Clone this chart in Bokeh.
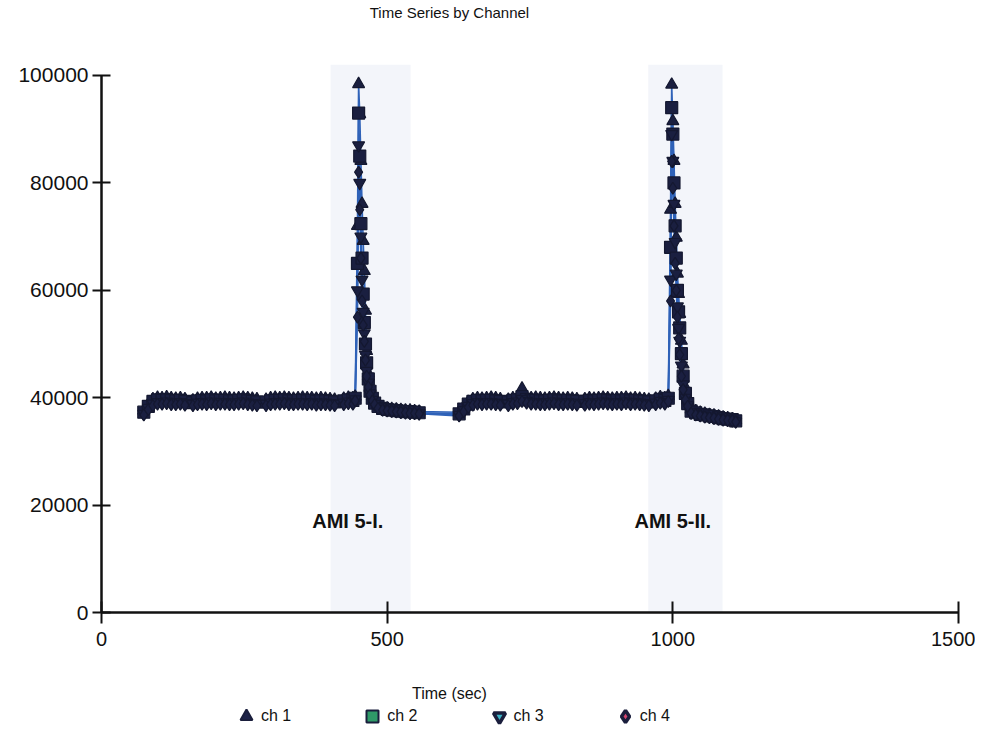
from bokeh.plotting import figure
from bokeh.models import (Range1d, FixedTicker, BasicTickFormatter, Label, BoxAnnotation,
                          Legend, LegendItem, LinearAxis)
from bokeh.embed import file_html
from bokeh.resources import INLINE

# ---------------- data ----------------
time_s = [
    74, 82, 90, 98, 106, 114, 122, 130, 138, 146,
    160, 168, 176, 184, 192, 200, 208, 216, 224, 232, 240, 248, 256, 264, 272,
    288, 296, 304, 312, 320, 328, 336, 344, 352, 360, 368, 376, 384, 392, 400, 408,
    424, 432, 440,
    444, 448, 450, 452, 454, 456, 458, 460, 462, 464, 467, 470, 474, 478,
    484, 492, 500, 508, 516, 524, 532, 540, 548, 556,
    626, 634, 642, 650, 658, 666, 674, 682, 690, 698,
    712, 720, 728, 736, 744, 752, 760, 768, 776, 784, 792, 800, 808, 816, 824, 832,
    846, 854, 862, 870, 878, 886, 894, 902, 910, 918, 926, 934, 942, 950, 958,
    970, 978, 986,
    992, 996, 998, 1000, 1002, 1004, 1006, 1008, 1010, 1012, 1015, 1018, 1022, 1026,
    1032, 1040, 1048, 1056, 1064, 1072, 1080, 1088, 1096, 1104, 1110,
]

ch1 = [
    37600, 38800, 39700, 40000, 39900, 40100, 39900, 39800, 39900, 39700,
    39500, 39800, 39900, 39900, 40000, 39800, 39900, 40000, 39900, 39800, 39900, 40000, 39900, 39800, 39700,
    39600, 39900, 40000, 39900, 40000, 39900, 39800, 39900, 40000, 39900, 39900, 39800, 39900, 39800, 39700, 39600,
    39800, 40000, 39900,
    40200, 72000, 98400, 92800, 84100, 76100, 69200, 63600, 56200, 48700, 44500, 41800, 40200, 39200,
    38600, 38200, 38000, 37900, 37800, 37700, 37600, 37600, 37500, 37400,
    37300, 38300, 39200, 39700, 39900, 39800, 39900, 40000, 39900, 39700,
    39600, 39900, 40000, 41700, 40100, 39900, 40000, 39900, 39800, 39900, 40000, 39900, 39800, 39900, 39800, 39700,
    39700, 39900, 39800, 39900, 40000, 39900, 39800, 39900, 39900, 40000, 39800, 39900, 39800, 39700, 39600,
    39800, 40100, 39900,
    40300, 75000, 98300, 91500, 84100, 76100, 69800, 63100, 59300, 55600, 50600, 46200, 41900, 39500,
    37800, 37500, 37200, 37000, 36800, 36700, 36500, 36300, 36200, 36000, 35800,
]

ch2 = [
    37300, 38400, 39300, 39600, 39500, 39600, 39500, 39400, 39500, 39300,
    39100, 39400, 39500, 39400, 39600, 39400, 39500, 39500, 39400, 39400, 39500, 39600, 39400, 39300, 39200,
    39200, 39400, 39500, 39500, 39600, 39400, 39400, 39500, 39500, 39400, 39500, 39300, 39400, 39400, 39300, 39200,
    39400, 39600, 39500,
    39900, 65000, 93000, 85000, 72400, 66000, 59300, 54000, 50000, 46500, 43500, 41200, 39900, 39000,
    38400, 38000, 37800, 37700, 37600, 37500, 37400, 37400, 37300, 37200,
    37000, 37900, 38800, 39300, 39500, 39400, 39500, 39500, 39400, 39300,
    39200, 39500, 39600, 40200, 39700, 39500, 39500, 39400, 39400, 39500, 39600, 39400, 39400, 39500, 39400, 39300,
    39300, 39500, 39400, 39500, 39600, 39500, 39400, 39500, 39400, 39600, 39400, 39500, 39400, 39300, 39200,
    39400, 39700, 39500,
    39900, 68000, 94000, 89100, 80000, 72000, 66000, 60000, 56000, 53000, 48200, 44000, 40800, 38900,
    37500, 37200, 36900, 36800, 36600, 36500, 36300, 36100, 36000, 35900, 35700,
]

ch3 = [
    37000, 38100, 38900, 39200, 39200, 39300, 39100, 39100, 39200, 39000,
    38800, 39100, 39200, 39100, 39300, 39100, 39200, 39200, 39100, 39100, 39200, 39300, 39100, 39000, 38900,
    38900, 39100, 39200, 39200, 39300, 39100, 39100, 39200, 39200, 39100, 39200, 39000, 39100, 39100, 39000, 38900,
    39100, 39300, 39200,
    39700, 60000, 87000, 80000, 70000, 62000, 56000, 52000, 48000, 45000, 42800, 40800, 39600, 38800,
    38200, 37900, 37700, 37600, 37500, 37400, 37300, 37200, 37200, 37100,
    36800, 37700, 38500, 39000, 39200, 39100, 39200, 39200, 39100, 39000,
    38900, 39200, 39300, 39800, 39400, 39200, 39200, 39100, 39100, 39200, 39300, 39100, 39100, 39200, 39100, 39000,
    39000, 39200, 39100, 39200, 39300, 39200, 39100, 39200, 39100, 39300, 39100, 39200, 39100, 39000, 38900,
    39100, 39400, 39200,
    39600, 62000, 89100, 84100, 76100, 69000, 63100, 57000, 53000, 50600, 46000, 42500, 40000, 38600,
    37300, 37000, 36800, 36600, 36500, 36300, 36200, 36000, 35900, 35800, 35600,
]

ch4 = [
    36800, 37800, 38500, 38800, 38800, 38900, 38700, 38700, 38800, 38600,
    38500, 38700, 38800, 38700, 38900, 38700, 38800, 38800, 38700, 38700, 38800, 38900, 38700, 38600, 38500,
    38500, 38700, 38800, 38800, 38900, 38700, 38700, 38800, 38800, 38700, 38800, 38600, 38700, 38700, 38600, 38500,
    38700, 38900, 38800,
    39400, 55000, 82000, 75000, 66000, 58000, 53500, 50500, 47000, 44000, 42000, 40500, 39400, 38700,
    38000, 37700, 37600, 37500, 37400, 37300, 37200, 37100, 37100, 37000,
    36600, 37400, 38200, 38600, 38800, 38700, 38800, 38800, 38700, 38600,
    38500, 38800, 38900, 39300, 39000, 38800, 38800, 38700, 38700, 38800, 38900, 38700, 38700, 38800, 38700, 38600,
    38600, 38800, 38700, 38800, 38900, 38800, 38700, 38800, 38700, 38900, 38700, 38800, 38700, 38600, 38500,
    38700, 39000, 38800,
    39300, 58000, 84000, 79000, 72000, 65000, 60000, 55000, 51000, 48000, 44000, 41500, 39600, 38400,
    37100, 36800, 36600, 36400, 36300, 36200, 36000, 35900, 35800, 35700, 35500,
]

channel_names = ["ch 1", "ch 2", "ch 3", "ch 4"]
channel_markers = ["triangle", "square", "inverted_triangle", "diamond"]
legend_fills = ["#1d2248", "#2f9a68", "#3cb4c8", "#d2456e"]
legend_line_widths = [2, 2, 3.5, 3.5]

x_ticks = [0, 500, 1000, 1500]
y_ticks = [0, 20000, 40000, 60000, 80000, 100000]

band_ranges = [(401, 541), (957, 1087)]
band_labels = ["AMI 5-I.", "AMI 5-II."]
band_label_x = [431, 1000]

title_text = "Time Series by Channel"
x_label = "Time (sec)"

# ---------------- figure ----------------
FONT = "Liberation Sans"
W, H = 975, 727

p = figure(width=W, height=H, output_backend="svg", toolbar_location=None,
           title_location=None, x_axis_location=None, y_axis_location=None,
           x_range=Range1d(-176.8, 1529.75), y_range=Range1d(-21415, 113966),
           min_border=0, min_border_left=0, min_border_right=0,
           min_border_top=0, min_border_bottom=0)
p.outline_line_color = None
p.background_fill_color = "white"
p.border_fill_color = "white"
p.grid.visible = False

for (l, r) in band_ranges:
    p.add_layout(BoxAnnotation(left=l, right=r, bottom=0, top=102000,
                               fill_color="#f3f5fa", fill_alpha=1.0,
                               line_color=None, level="underlay"))

series = [ch1, ch2, ch3, ch4]
for ys in series:
    p.line(time_s, ys, line_color="#2f62b8", line_width=1.6)
for ys, mk in zip(series, channel_markers):
    p.scatter(time_s, ys, marker=mk, size=12, fill_color="#1a1f40",
              line_color="#141830", line_width=1.2)

# axes through the origin
xaxis = LinearAxis(fixed_location=0, bounds=(0, 1500),
                   ticker=FixedTicker(ticks=x_ticks),
                   formatter=BasicTickFormatter(use_scientific=False))
yaxis = LinearAxis(fixed_location=0, bounds=(0, 100000),
                   ticker=FixedTicker(ticks=y_ticks),
                   formatter=BasicTickFormatter(use_scientific=False))
for ax in (xaxis, yaxis):
    ax.axis_line_width = 2.5
    ax.axis_line_color = "#111111"
    ax.major_tick_line_width = 2
    ax.major_tick_line_color = "#111111"
    ax.minor_tick_in = 0
    ax.minor_tick_out = 0
    ax.major_label_text_font = FONT
    ax.major_label_text_font_size = "20px"
    ax.major_label_text_color = "#111111"
yaxis.major_label_text_font_size = "21px"
xaxis.major_tick_in = 11
xaxis.major_tick_out = 11
xaxis.major_label_standoff = 8
yaxis.major_tick_in = 9
yaxis.major_tick_out = 9
yaxis.major_label_standoff = 4
p.add_layout(xaxis, "below")
p.add_layout(yaxis, "left")

# texts
p.add_layout(Label(x=609, y=111700, text=title_text, text_align="center",
                   text_baseline="middle", text_font=FONT, text_font_size="15px",
                   text_color="#111111"))
p.add_layout(Label(x=609, y=-15084, text=x_label, text_align="center",
                   text_baseline="middle", text_font=FONT, text_font_size="16px",
                   text_color="#111111"))
for txt, bx in zip(band_labels, band_label_x):
    p.add_layout(Label(x=bx, y=16950, text=txt, text_align="center",
                       text_baseline="middle", text_font=FONT, text_font_size="20px",
                       text_font_style="bold", text_color="#111111"))

# legend swatches: hidden renderers reusing the first sample, shown only in the legend
items = []
for name, mk, fc, lw, ys in zip(channel_names, channel_markers, legend_fills,
                                legend_line_widths, series):
    r = p.scatter(x=time_s[:1], y=ys[:1], marker=mk, size=12, fill_color=fc,
                  line_color="#1a1e3c", line_width=lw, visible=False)
    items.append(LegendItem(label=name, renderers=[r]))
legend = Legend(items=items, orientation="horizontal", location=(231, -4),
                glyph_width=30, glyph_height=30, label_standoff=-3, spacing=66,
                padding=0, margin=0, border_line_color=None,
                background_fill_alpha=0, inactive_fill_alpha=0,
                label_text_font=FONT, label_text_font_size="16px",
                label_text_color="#111111")
p.add_layout(legend)

open("out.html", "w").write(file_html(p, INLINE))
